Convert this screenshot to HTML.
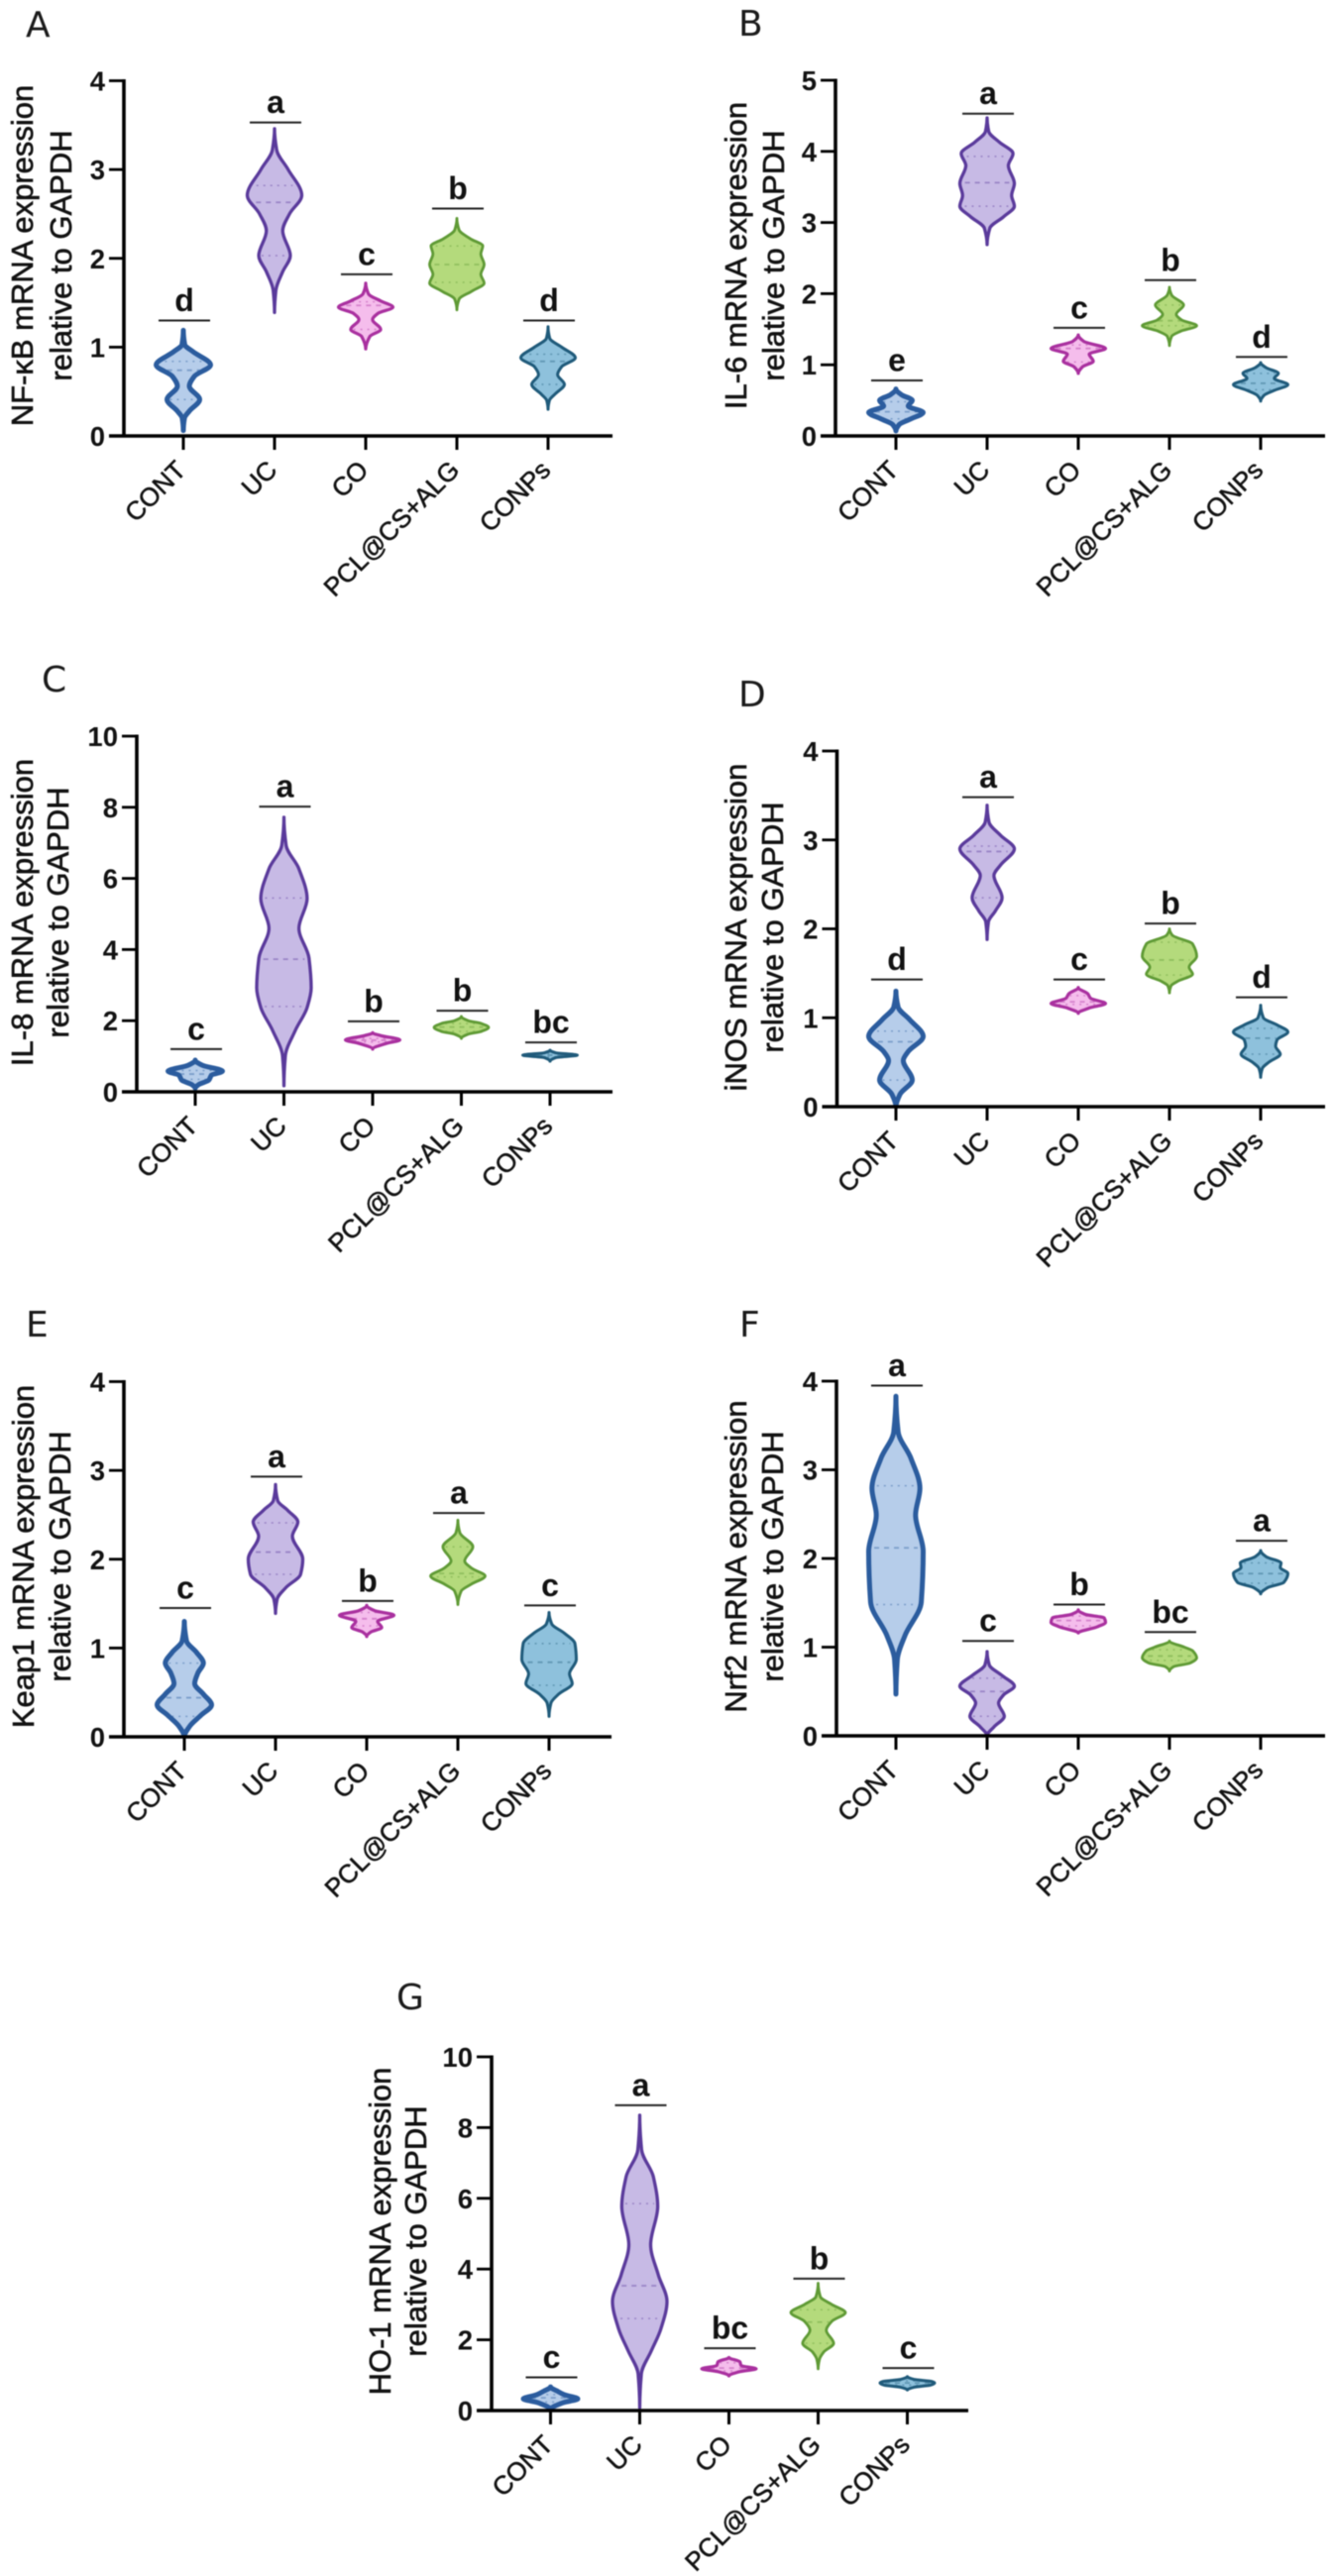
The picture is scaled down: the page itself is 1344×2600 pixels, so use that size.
<!DOCTYPE html>
<html lang="en">
<head>
<meta charset="utf-8">
<title>mRNA expression violin plots</title>
<style>
html,body{margin:0;padding:0;background:#fff;width:1344px;height:2600px;overflow:hidden}
svg{display:block;filter:blur(0.6px)}
text{font-family:"Liberation Sans",Arial,sans-serif;fill:#111}
.panel-letter{font-family:"DejaVu Sans",sans-serif;font-size:36px;fill:#1a1a1a}
.tick-label{font-size:27.5px;font-weight:bold;text-anchor:end}
.axis-title{font-size:31px;text-anchor:middle;stroke:#111;stroke-width:.6px}
.cat-label{font-size:26px;text-anchor:end;stroke:#111;stroke-width:.55px}
.sig{font-size:32px;font-weight:bold;text-anchor:middle}
</style>
</head>
<body>
<svg id="figure" xmlns="http://www.w3.org/2000/svg" width="1344" height="2600" viewBox="0 0 1344 2600"></svg>
<script>
/* Shared categories */
const categories = ['CONT', 'UC', 'CO', 'PCL@CS+ALG', 'CONPs'];

/* Panel A: NF-kB. Violin rows are [expression value, relative density 0-1] */
const yTicksA = [0, 1, 2, 3, 4];
const lettersA = ['d', 'a', 'c', 'b', 'd'];
const bracketsA = [1.3, 3.53, 1.82, 2.56, 1.3];
const quartilesA = [[0.41, 0.74, 0.84], [2.03, 2.63, 2.82], [1.2, 1.47, 1.51], [1.73, 1.93, 2.14], [0.58, 0.84, 0.92]];
const violinA0 = [[1.19, 0], [1.03, .05], [.95, .35], [.8, 1], [.67, .4], [.56, .22], [.41, .6], [.28, .22], [.2, .04], [.06, 0]];
const violinA1 = [[3.46, 0], [3.22, .08], [3.0, .5], [2.71, 1], [2.5, .55], [2.31, .3], [2.03, .58], [1.85, .3], [1.64, .05], [1.39, 0]];
const violinA2 = [[1.72, 0], [1.6, .1], [1.52, .55], [1.45, 1], [1.38, .45], [1.31, .25], [1.2, .55], [1.12, .15], [.98, 0]];
const violinA3 = [[2.45, 0], [2.32, .08], [2.22, .5], [2.14, .95], [2.05, .88], [1.93, 1], [1.82, .88], [1.72, 1], [1.63, .55], [1.54, .08], [1.42, 0]];
const violinA4 = [[1.23, 0], [1.1, .06], [1.0, .5], [.88, 1], [.78, .5], [.69, .35], [.58, .6], [.47, .25], [.4, .05], [.3, 0]];

/* Panel B: IL-6 */
const yTicksB = [0, 1, 2, 3, 4, 5];
const lettersB = ['e', 'a', 'c', 'b', 'd'];
const bracketsB = [.78, 4.53, 1.52, 2.19, 1.11];
const quartilesB = [[.24, .34, .48], [3.23, 3.56, 3.93], [1.04, 1.23, 1.28], [1.55, 1.62, 1.84], [.65, .74, .88]];
const violinB0 = [[.66, 0], [.58, .2], [.5, .6], [.42, .45], [.33, 1], [.24, .55], [.16, .12], [.07, 0]];
const violinB1 = [[4.47, 0], [4.28, .06], [4.13, .45], [3.97, .95], [3.8, .78], [3.55, 1], [3.38, .9], [3.23, 1], [3.08, .6], [2.92, .1], [2.69, 0]];
const violinB2 = [[1.42, 0], [1.33, .2], [1.23, 1], [1.15, .4], [1.05, .55], [.97, .15], [.88, 0]];
const violinB3 = [[2.09, 0], [1.98, .08], [1.84, .52], [1.71, .25], [1.63, .45], [1.55, 1], [1.47, .4], [1.4, .08], [1.27, 0]];
const violinB4 = [[1.03, 0], [.96, .2], [.88, .65], [.81, .5], [.72, 1], [.64, .5], [.57, .12], [.49, 0]];

/* Panel C: IL-8 */
const yTicksC = [0, 2, 4, 6, 8, 10];
const lettersC = ['c', 'a', 'b', 'b', 'bc'];
const bracketsC = [1.2, 8.02, 1.98, 2.28, 1.39];
const quartilesC = [[.35, .5, .6], [2.4, 3.73, 5.45], [1.4, 1.45, 1.5], [1.7, 1.82, 1.92], [.98, 1.03, 1.08]];
const violinC0 = [[.89, 0], [.75, .25], [.58, 1], [.47, .6], [.33, .5], [.2, .12], [.1, 0]];
const violinC1 = [[7.72, 0], [6.93, .08], [6.27, .55], [5.43, .85], [4.6, .55], [3.76, .92], [2.92, 1], [2.37, .85], [1.73, .42], [1, .05], [.17, 0]];
const violinC2 = [[1.66, 0], [1.58, .3], [1.46, 1], [1.36, .5], [1.2, 0]];
const violinC3 = [[2.12, 0], [2.0, .25], [1.93, .7], [1.81, 1], [1.69, .7], [1.62, .25], [1.5, 0]];
const violinC4 = [[1.17, 0], [1.1, .2], [1.03, 1], [.96, .2], [.86, 0]];

/* Panel D: iNOS */
const yTicksD = [0, 1, 2, 3, 4];
const lettersD = ['d', 'a', 'c', 'b', 'd'];
const bracketsD = [1.43, 3.48, 1.43, 2.06, 1.23];
const quartilesD = [[.3, .73, .85], [2.35, 2.87, 2.93], [1.15, 1.18, 1.25], [1.48, 1.65, 1.85], [.59, .77, .88]];
const violinD0 = [[1.3, 0], [1.12, .08], [.98, .5], [.79, 1], [.62, .45], [.52, .27], [.3, .6], [.14, .15], [.0, 0]];
const violinD1 = [[3.39, 0], [3.2, .07], [3.05, .5], [2.9, 1], [2.72, .5], [2.6, .25], [2.35, .55], [2.2, .3], [2.08, .05], [1.88, 0]];
const violinD2 = [[1.34, 0], [1.27, .35], [1.22, .45], [1.16, 1], [1.11, .4], [1.05, 0]];
const violinD3 = [[2, 0], [1.93, .1], [1.83, .85], [1.69, 1], [1.57, .72], [1.49, .85], [1.41, .3], [1.36, .06], [1.28, 0]];
const violinD4 = [[1.14, 0], [1.0, .1], [.92, .6], [.84, 1], [.75, .6], [.68, .55], [.59, .72], [.5, .3], [.43, .06], [.33, 0]];

/* Panel E: Keap1 */
const yTicksE = [0, 1, 2, 3, 4];
const lettersE = ['c', 'a', 'b', 'a', 'c'];
const bracketsE = [1.45, 2.93, 1.53, 2.52, 1.48];
const quartilesE = [[.23, .44, .83], [1.83, 2.08, 2.41], [1.25, 1.33, 1.4], [1.8, 1.84, 2.14], [.58, .84, 1.05]];
const violinE0 = [[1.3, 0], [1.08, .08], [.95, .45], [.83, .7], [.72, .5], [.6, .38], [.48, .7], [.36, 1], [.24, .6], [.12, .2], [0, 0]];
const violinE1 = [[2.84, 0], [2.66, .08], [2.55, .45], [2.42, .82], [2.26, .62], [2.0, 1], [1.83, .92], [1.68, .38], [1.55, .06], [1.39, 0]];
const violinE2 = [[1.48, 0], [1.42, .3], [1.37, 1], [1.3, .4], [1.23, .55], [1.18, .15], [1.13, 0]];
const violinE3 = [[2.44, 0], [2.3, .07], [2.14, .55], [1.98, .25], [1.9, .5], [1.81, 1], [1.72, .5], [1.64, .12], [1.49, 0]];
const violinE4 = [[1.4, 0], [1.27, .1], [1.17, .55], [1.05, .95], [.87, 1], [.71, .75], [.6, .85], [.48, .35], [.38, .07], [.23, 0]];

/* Panel F: Nrf2 */
const yTicksF = [0, 1, 2, 3, 4];
const lettersF = ['a', 'c', 'b', 'bc', 'a'];
const bracketsF = [3.95, 1.07, 1.48, 1.17, 2.2];
const quartilesF = [[1.48, 2.12, 2.82], [.22, .5, .65], [1.24, 1.3, 1.35], [.85, .9, .97], [1.72, 1.83, 1.95]];
const violinF0 = [[3.83, 0], [3.43, .08], [3.13, .55], [2.79, .88], [2.49, .72], [2.08, 1], [1.51, .93], [1.13, .33], [.86, .05], [.47, 0]];
const violinF1 = [[.95, 0], [.8, .08], [.68, .55], [.56, 1], [.46, .6], [.37, .42], [.22, .63], [.1, .25], [0, 0]];
const violinF2 = [[1.42, 0], [1.37, .25], [1.33, .95], [1.28, 1], [1.23, .7], [1.16, 0]];
const violinF3 = [[1.07, 0], [1.0, .55], [.96, .85], [.88, 1], [.82, .75], [.78, .15], [.73, 0]];
const violinF4 = [[2.09, 0], [2.02, .2], [1.95, .75], [1.9, .72], [1.83, 1], [1.73, .85], [1.67, .25], [1.6, 0]];

/* Panel G: HO-1 */
const yTicksG = [0, 2, 4, 6, 8, 10];
const lettersG = ['c', 'a', 'bc', 'b', 'c'];
const bracketsG = [.94, 8.63, 1.76, 3.73, 1.2];
const quartilesG = [[.24, .36, .45], [2.6, 3.53, 5.85], [1.12, 1.2, 1.35], [1.9, 2.5, 2.85], [.72, .78, .84]];
const violinG0 = [[.67, 0], [.55, .25], [.45, .5], [.33, 1], [.22, .45], [.03, 0]];
const violinG1 = [[8.35, 0], [7.37, .07], [6.61, .5], [5.77, .66], [4.69, .4], [3.84, .68], [3.08, 1], [2.32, .78], [1.68, .42], [1.04, .06], [.08, 0]];
const violinG2 = [[1.5, 0], [1.38, .4], [1.27, .45], [1.18, 1], [1.1, .4], [.98, 0]];
const violinG3 = [[3.6, 0], [3.22, .08], [3.0, .5], [2.77, 1], [2.52, .5], [2.27, .3], [1.9, .57], [1.65, .2], [1.45, .05], [1.18, 0]];
const violinG4 = [[.96, 0], [.88, .25], [.82, .9], [.78, 1], [.72, .85], [.66, .25], [.58, 0]];

const strokeColors = ['#2b5c9e', '#5a3a9b', '#a9309f', '#5f9a35', '#1f5a7a'];
const fillColors = ['#b6cdea', '#c7bae5', '#f5bdec', '#b4da7c', '#8ec1dc'];
const strokeWidths = [5, 3.3, 3.2, 2.8, 3];
const SVGNS = 'http://www.w3.org/2000/svg';
const figure = document.getElementById('figure');

function addEl(parent, tag, name) {
  const el = document.createElementNS(SVGNS, tag);
  
  
  parent.appendChild(el);
  return el;
}
function setAll(el, attrs) {
  for (const k in attrs) el.setAttribute(k, attrs[k]);
  return el;
}
function slug(s) {
  return s.toLowerCase().replace(/[^a-z0-9]+/g, '-');
}
function line(parent, name, x1, y1, x2, y2, color, w) {
  return setAll(addEl(parent, 'line', name), {x1: x1, y1: y1, x2: x2, y2: y2, stroke: color, 'stroke-width': w});
}
function label(parent, name, cls, x, y, str, transform) {
  const t = setAll(addEl(parent, 'text', name), {x: x, y: y, class: cls});
  if (transform) t.setAttribute('transform', transform);
  t.textContent = str;
  return t;
}
/* Monotone side profile: density as a function of value */
function tangents(ys, ds) {
  const n = ys.length, m = [];
  for (let i = 0; i < n; i++) {
    if (i === 0 || i === n - 1) { m.push(0); continue; }
    const a = (ds[i] - ds[i - 1]) / (ys[i] - ys[i - 1]);
    const b = (ds[i + 1] - ds[i]) / (ys[i + 1] - ys[i]);
    m.push(a * b <= 0 ? 0 : 2 * a * b / (a + b));
  }
  return m;
}
function violinPath(rows, cx, yScale, halfWidth) {
  const ys = rows.map(r => yScale(r[0]));
  const ds = rows.map(r => r[1] * halfWidth);
  const m = tangents(ys, ds);
  let d = 'M' + cx.toFixed(2) + ' ' + ys[0].toFixed(2);
  for (let i = 0; i < ys.length - 1; i++) {
    const h = (ys[i + 1] - ys[i]) / 3;
    d += 'C' + (cx + ds[i] + m[i] * h).toFixed(2) + ' ' + (ys[i] + h).toFixed(2) + ' ' +
      (cx + ds[i + 1] - m[i + 1] * h).toFixed(2) + ' ' + (ys[i + 1] - h).toFixed(2) + ' ' +
      (cx + ds[i + 1]).toFixed(2) + ' ' + ys[i + 1].toFixed(2);
  }
  for (let i = ys.length - 1; i > 0; i--) {
    const h = (ys[i] - ys[i - 1]) / 3;
    d += 'C' + (cx - ds[i] + m[i] * h).toFixed(2) + ' ' + (ys[i] - h).toFixed(2) + ' ' +
      (cx - ds[i - 1] - m[i - 1] * h).toFixed(2) + ' ' + (ys[i - 1] + h).toFixed(2) + ' ' +
      (cx - ds[i - 1]).toFixed(2) + ' ' + ys[i - 1].toFixed(2);
  }
  return d + 'Z';
}
function densityAt(rows, v) {
  for (let i = 0; i < rows.length - 1; i++) {
    const hi = rows[i], lo = rows[i + 1];
    if (v <= hi[0] && v >= lo[0]) {
      const t = (v - lo[0]) / ((hi[0] - lo[0]) || 1);
      return lo[1] + t * (hi[1] - lo[1]);
    }
  }
  return 0;
}

function drawPanel(p) {
  const g = addEl(figure, 'g', 'panel-' + p.letter.toLowerCase());
  const yMax = p.yTicks[p.yTicks.length - 1];
  const yScale = v => p.y0 - (v / yMax) * (p.y0 - p.yTop);
  const xScale = i => p.x1 + i * p.step;
  const halfWidth = 27.5;

  label(g, 'panel-label', 'panel-letter', p.letterX, p.letterY, p.letter);

  p.titleLines.forEach(function (txt, i) {
    const bx = p.titleX[i];
    label(g, i === 0 ? 'y-axis-title' : 'y-axis-subtitle', 'axis-title', bx, p.titleY, txt, 'rotate(-90 ' + bx + ' ' + p.titleY + ')');
  });

  /* violins */
  categories.forEach(function (cat, i) {
    const cx = xScale(i);
    const rows = p.violins[i];
    const vg = addEl(g, 'g', 'violin-' + slug(cat));
    setAll(addEl(vg, 'path', 'violin-body-' + slug(cat)), {
      d: violinPath(rows, cx, yScale, halfWidth),
      fill: fillColors[i], stroke: strokeColors[i],
      'stroke-width': strokeWidths[i], 'stroke-linejoin': 'round'
    });
    p.quartiles[i].forEach(function (q, j) {
      const hw = densityAt(rows, q) * halfWidth * 0.82;
      const ql = line(vg, j === 1 ? 'median-line' : 'quartile-line', cx - hw, yScale(q), cx + hw, yScale(q), strokeColors[i], j === 1 ? 1.8 : 1.5);
      ql.setAttribute('stroke-dasharray', j === 1 ? '5 5' : '2 5');
      ql.setAttribute('stroke-opacity', '0.42');
    });
    /* significance bracket and letter */
    const by = yScale(p.brackets[i]);
    line(g, 'significance-bar-' + slug(cat), cx - 26 + 1, by, cx + 26 + 1, by, '#222', 2);
    label(g, 'significance-letter-' + slug(cat), 'sig', cx + 1, by - 9.5, p.letters[i]);
  });

  /* axes */
  line(g, 'y-axis-line', p.axisX, p.yTop - 1.5, p.axisX, p.y0 + 1.5, '#000', 3.6);
  line(g, 'x-axis-line', p.axisX - 15, p.y0, p.xEnd, p.y0, '#000', 3.4);
  p.yTicks.forEach(function (t) {
    const y = yScale(t);
    line(g, 'y-tick', p.axisX - 15, y, p.axisX, y, '#000', 2.8);
    label(g, 'y-tick-label', 'tick-label', p.axisX - 19, y + 10, String(t));
  });
  categories.forEach(function (cat, i) {
    const cx = xScale(i);
    line(g, 'x-tick-' + slug(cat), cx, p.y0, cx, p.y0 + 14, '#000', 3);
    const ax = cx + 4, ay = p.y0 + 36;
    label(g, 'x-tick-label-' + slug(cat), 'cat-label', ax, ay, cat, 'rotate(-45 ' + ax + ' ' + ay + ')');
  });
}

drawPanel({letter: 'A', letterX: 26, letterY: 37, titleLines: ['NF-\u03BAB mRNA expression', 'relative to GAPDH'], titleX: [33, 72], titleY: 258,
  axisX: 125, y0: 440, yTop: 81.5, xEnd: 618, x1: 185, step: 92,
  yTicks: yTicksA, letters: lettersA, brackets: bracketsA, quartiles: quartilesA,
  violins: [violinA0, violinA1, violinA2, violinA3, violinA4]});
drawPanel({letter: 'B', letterX: 745, letterY: 36, titleLines: ['IL-6 mRNA expression', 'relative to GAPDH'], titleX: [753, 791], titleY: 258,
  axisX: 843, y0: 440, yTop: 81, xEnd: 1337, x1: 904, step: 92,
  yTicks: yTicksB, letters: lettersB, brackets: bracketsB, quartiles: quartilesB,
  violins: [violinB0, violinB1, violinB2, violinB3, violinB4]});
drawPanel({letter: 'C', letterX: 42, letterY: 698, titleLines: ['IL-8 mRNA expression', 'relative to GAPDH'], titleX: [33, 69], titleY: 921,
  axisX: 138, y0: 1102, yTop: 743, xEnd: 618, x1: 197, step: 89.5,
  yTicks: yTicksC, letters: lettersC, brackets: bracketsC, quartiles: quartilesC,
  violins: [violinC0, violinC1, violinC2, violinC3, violinC4]});
drawPanel({letter: 'D', letterX: 745, letterY: 713, titleLines: ['iNOS mRNA expression', 'relative to GAPDH'], titleX: [753, 790], titleY: 936,
  axisX: 844.5, y0: 1117, yTop: 758, xEnd: 1337, x1: 904, step: 92,
  yTicks: yTicksD, letters: lettersD, brackets: bracketsD, quartiles: quartilesD,
  violins: [violinD0, violinD1, violinD2, violinD3, violinD4]});
drawPanel({letter: 'E', letterX: 26, letterY: 1349, titleLines: ['Keap1 mRNA expression', 'relative to GAPDH'], titleX: [34, 71], titleY: 1571,
  axisX: 125, y0: 1753, yTop: 1394.5, xEnd: 617, x1: 186, step: 92,
  yTicks: yTicksE, letters: lettersE, brackets: bracketsE, quartiles: quartilesE,
  violins: [violinE0, violinE1, violinE2, violinE3, violinE4]});
drawPanel({letter: 'F', letterX: 746, letterY: 1349, titleLines: ['Nrf2 mRNA expression', 'relative to GAPDH'], titleX: [753, 790], titleY: 1571,
  axisX: 844, y0: 1752, yTop: 1394, xEnd: 1337, x1: 904, step: 92,
  yTicks: yTicksF, letters: lettersF, brackets: bracketsF, quartiles: quartilesF,
  violins: [violinF0, violinF1, violinF2, violinF3, violinF4]});
drawPanel({letter: 'G', letterX: 400, letterY: 2028, titleLines: ['HO-1 mRNA expression', 'relative to GAPDH'], titleX: [394, 430], titleY: 2252,
  axisX: 496, y0: 2433, yTop: 2076, xEnd: 977, x1: 555.5, step: 90,
  yTicks: yTicksG, letters: lettersG, brackets: bracketsG, quartiles: quartilesG,
  violins: [violinG0, violinG1, violinG2, violinG3, violinG4]});
</script>
</body>
</html>
